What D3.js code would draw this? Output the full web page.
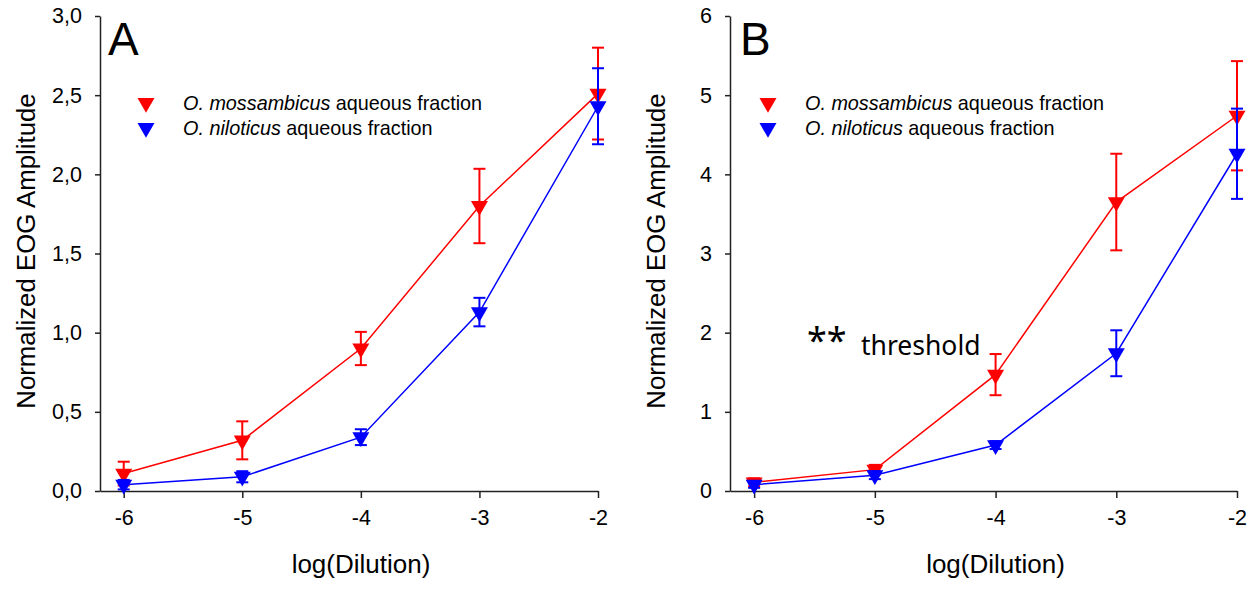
<!DOCTYPE html>
<html lang="en">
<head>
    <meta charset="UTF-8">
    <title>EOG dose response</title>
    <style>
        html, body {
            margin: 0;
            padding: 0;
            background-color: #ffffff;
            font-family: 'Liberation Sans', Arial, sans-serif;
        }
        .axis path, .axis line {
            stroke: #222;
            stroke-width: 1.5;
        }
        .axis text {
            font-family: 'Liberation Sans', Arial, sans-serif;
            font-size: 21px;
            fill: #000;
        }
    </style>
</head>
<body>
    <div id="chart"></div>
    <script src="https://d3js.org/d3.v7.min.js"></script>
    <script>
        // DATA
        const dilution = [-6, -5, -4, -3, -2];
        const seriesNames = ["O. mossambicus", "O. niloticus"];
        const seriesColors = ["#ff0000", "#0000ff"];

        // panel A
        const mossA = [0.11, 0.32, 0.90, 1.80, 2.51];
        const mossAErr = [0.075, 0.12, 0.105, 0.235, 0.29];
        const niloA = [0.04, 0.09, 0.34, 1.13, 2.43];
        const niloAErr = [0.03, 0.035, 0.05, 0.09, 0.24];
        const ticksA = [0, 0.5, 1, 1.5, 2, 2.5, 3];

        // panel B
        const mossB = [0.11, 0.27, 1.47, 3.65, 4.74];
        const mossBErr = [0.05, 0.06, 0.26, 0.61, 0.69];
        const niloB = [0.08, 0.20, 0.58, 1.74, 4.26];
        const niloBErr = [0.04, 0.05, 0.05, 0.29, 0.57];
        const ticksB = [0, 1, 2, 3, 4, 5, 6];

        const W = 1259, H = 590;
        const svg = d3.select("#chart")
            .append("svg")
            .attr("width", W)
            .attr("height", H);

        function drawPanel(opts) {
            const g = svg.append("g");

            const x = d3.scaleLinear()
                .domain([-6.2, -2])
                .range([opts.left, opts.right]);
            const y = d3.scaleLinear()
                .domain([0, opts.yMax])
                .range([491, 16]);

            // X AXIS
            g.append("g")
                .attr("class", "axis")
                .attr("transform", `translate(0, ${y(0)})`)
                .call(d3.axisBottom(x)
                    .tickValues(dilution)
                    .tickSize(7)
                    .tickSizeOuter(0)
                    .tickPadding(12)
                    .tickFormat((d) => String(d)));

            // Y AXIS
            g.append("g")
                .attr("class", "axis")
                .attr("transform", `translate(${opts.left}, 0)`)
                .call(d3.axisLeft(y)
                    .tickValues(opts.ticks)
                    .tickSize(5)
                    .tickSizeOuter(0)
                    .tickPadding(13)
                    .tickFormat(opts.fmt));

            g.selectAll(".axis text").style("font-size", "21.5px");

            // AXIS TITLES
            g.append("text")
                .attr("transform", `translate(${opts.left - 65}, 251) rotate(-90)`)
                .attr("text-anchor", "middle")
                .style("font-size", "25.8px")
                .text("Normalized EOG Amplitude");

            g.append("text")
                .attr("x", (opts.left + opts.right) / 2 + 12)
                .attr("y", 573)
                .attr("text-anchor", "middle")
                .style("font-size", "26px")
                .text("log(Dilution)");

            // PANEL LETTER
            g.append("text")
                .attr("x", opts.left + opts.letterDx)
                .attr("y", 55)
                .style("font-size", "46px")
                .text(opts.letter);

            // SERIES
            const line = d3.line()
                .x((d) => x(d.x))
                .y((d) => y(d.y));
            const tri = d3.symbol().type(d3.symbolTriangle).size(125);

            opts.series.forEach((s, k) => {
                const pts = dilution.map((v, i) => ({x: v, y: s.values[i], e: s.err[i]}));
                const col = seriesColors[k];

                g.append("path")
                    .datum(pts)
                    .attr("d", line)
                    .attr("fill", "none")
                    .attr("stroke", col)
                    .attr("stroke-width", 1.5);

                const eb = g.append("g")
                    .attr("stroke", col)
                    .attr("stroke-width", 2);
                eb.selectAll("line.v")
                    .data(pts).enter()
                    .append("line")
                    .attr("x1", (d) => x(d.x))
                    .attr("x2", (d) => x(d.x))
                    .attr("y1", (d) => y(d.y + d.e))
                    .attr("y2", (d) => y(Math.max(0, d.y - d.e)));
                eb.selectAll("line.top")
                    .data(pts).enter()
                    .append("line")
                    .attr("x1", (d) => x(d.x) - 6)
                    .attr("x2", (d) => x(d.x) + 6)
                    .attr("y1", (d) => y(d.y + d.e))
                    .attr("y2", (d) => y(d.y + d.e));
                eb.selectAll("line.bot")
                    .data(pts).enter()
                    .append("line")
                    .attr("x1", (d) => x(d.x) - 6)
                    .attr("x2", (d) => x(d.x) + 6)
                    .attr("y1", (d) => y(Math.max(0, d.y - d.e)))
                    .attr("y2", (d) => y(Math.max(0, d.y - d.e)));

                g.selectAll(null)
                    .data(pts).enter()
                    .append("path")
                    .attr("d", tri)
                    .attr("transform", (d) => `translate(${x(d.x)}, ${y(d.y)}) rotate(180)`)
                    .attr("fill", col);

                // LEGEND
                const ly = 103 + k * 25;
                g.append("path")
                    .attr("d", tri)
                    .attr("transform", `translate(${opts.left + opts.legendDx}, ${ly}) rotate(180)`)
                    .attr("fill", col);
                const lt = g.append("text")
                    .attr("x", opts.left + opts.legendDx + 37)
                    .attr("y", ly + 7)
                    .style("font-size", "19.8px");
                lt.append("tspan")
                    .style("font-style", "italic")
                    .text(seriesNames[k]);
                lt.append("tspan").text(" aqueous fraction");
            });

            return {x, y, g};
        }

        const commaFmt = (d) => d3.format(".1f")(d).replace(".", ",");

        drawPanel({
            left: 100, right: 598, yMax: 3, ticks: ticksA, fmt: commaFmt,
            letter: "A", letterDx: 8, legendDx: 46,
            series: [
                {values: mossA, err: mossAErr},
                {values: niloA, err: niloAErr}
            ]
        });

        const pB = drawPanel({
            left: 730, right: 1237, yMax: 6, ticks: ticksB, fmt: d3.format("d"),
            letter: "B", letterDx: 10, legendDx: 38,
            series: [
                {values: mossB, err: mossBErr},
                {values: niloB, err: niloBErr}
            ]
        });

        // THRESHOLD ANNOTATION
        pB.g.append("text")
            .attr("x", 807)
            .attr("y", 353)
            .style("font-family", "'Noto Sans', sans-serif")
            .style("font-size", "36px")
            .text("**");
        pB.g.append("text")
            .attr("x", 861)
            .attr("y", 355)
            .style("font-family", "'Noto Sans', sans-serif")
            .style("font-size", "26.5px")
            .text("threshold");
    </script>
</body>
</html>
